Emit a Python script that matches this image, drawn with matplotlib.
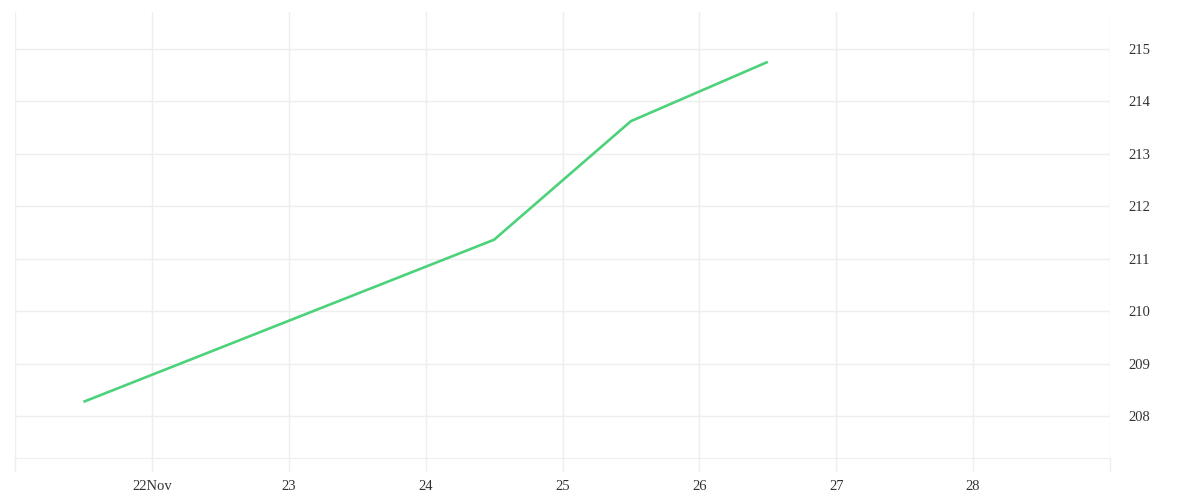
"""Line chart with right-hand price axis, daily gridlines."""

from datetime import datetime

import matplotlib
matplotlib.use("Agg")
import matplotlib.dates as mdates
import matplotlib.pyplot as plt
from matplotlib.ticker import FixedLocator, FuncFormatter

# data
times = [
    datetime(2023, 11, 21, 12),
    datetime(2023, 11, 24, 12),
    datetime(2023, 11, 25, 12),
    datetime(2023, 11, 26, 12),
]
values = [208.27, 211.36, 213.62, 214.75]
y_ticks = [208, 209, 210, 211, 212, 213, 214, 215]

GRID = "#eeeeee"
LINE = "#4cd27a"

plt.rcParams["font.family"] = ["Liberation Serif", "DejaVu Serif"]

fig = plt.figure(figsize=(12, 5), dpi=100)
ax = fig.add_axes([0.0125, 0.084, 0.9125, 0.892])

ax.plot(mdates.date2num(times), values, color=LINE, linewidth=1.9,
        solid_capstyle="butt")

x0 = mdates.date2num(datetime(2023, 11, 21))
x1 = mdates.date2num(datetime(2023, 11, 29))
ax.set_xlim(x0, x1)
ax.set_ylim(207.2, 215.7)

days = [x0 + i for i in range(9)]
ax.xaxis.set_major_locator(FixedLocator(days))


def day_label(x, pos):
    d = mdates.num2date(x)
    if d.day == 21 or d.day == 29:
        return ""
    if d.day == 22:
        return "22Nov"
    return str(d.day)


ax.xaxis.set_major_formatter(FuncFormatter(day_label))
ax.tick_params(axis="x", length=10, width=1, color=GRID, labelsize=10.5,
               labelcolor="#333333", pad=6)

ax.yaxis.tick_right()
ax.set_yticks(y_ticks)
ax.tick_params(axis="y", length=0, labelsize=10.5, labelcolor="#333333", pad=13)

ax.grid(True, color=GRID, linewidth=1)
ax.set_axisbelow(True)

for side in ("top", "left", "right"):
    ax.spines[side].set_visible(False)
ax.spines["bottom"].set_color(GRID)

fig.savefig("out.png", dpi=100)
